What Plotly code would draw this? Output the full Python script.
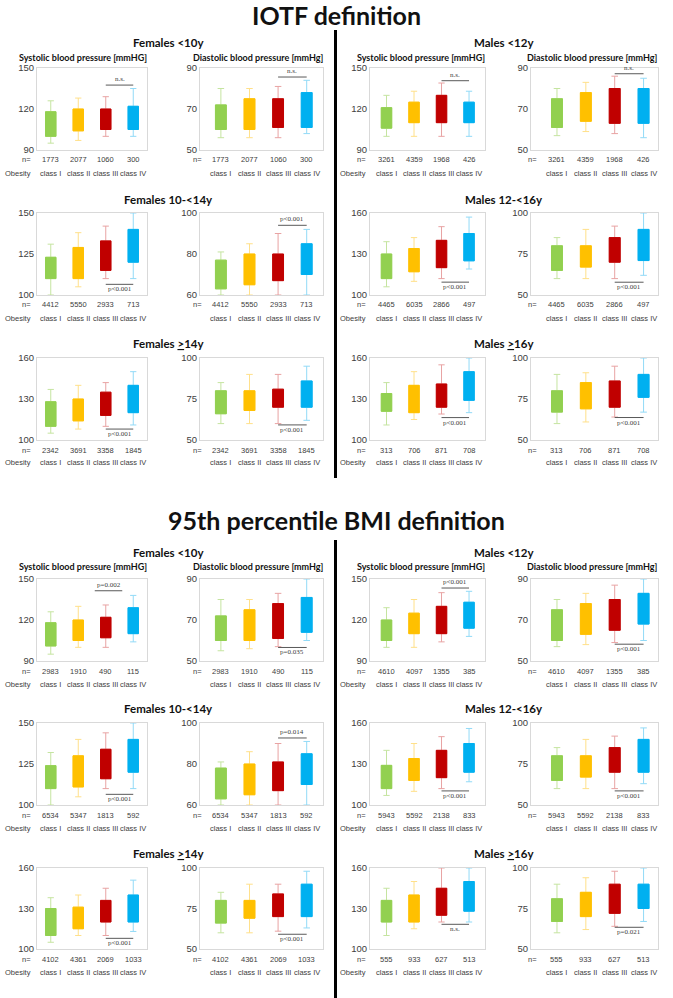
import plotly.graph_objects as go

W, H = 673, 998

# ---------------- data ----------------
CLASSES = ["class I", "class II", "class III", "class IV"]
COLORS = ["#92D050", "#FFC000", "#C00000", "#00B0F0"]
WHISKER_COLORS = ["#C5E4A0", "#FFE08A", "#E8A3A3", "#92DAF7"]

DEFINITIONS = ["IOTF definition", "95th percentile BMI definition"]
GROUPS = ["Females &lt;10y", "Females 10-&lt;14y", "Females <u>&gt;</u>14y",
          "Males &lt;12y", "Males 12-&lt;16y", "Males <u>&gt;</u>16y"]
SUBTITLES = ["Systolic blood pressure [mmHG]", "Diastolic blood pressure [mmHg]"]

SYS_RANGE = [[90, 150], [100, 150], [100, 160], [90, 150], [100, 160], [100, 160]]
SYS_TICKS = [[90, 120, 150], [100, 125, 150], [100, 130, 160],
             [90, 120, 150], [100, 130, 160], [100, 130, 160]]
DIA_RANGE = [[50, 90], [60, 100], [50, 100], [50, 90], [50, 100], [50, 100]]
DIA_TICKS = [[50, 70, 90], [60, 80, 100], [50, 75, 100],
             [50, 70, 90], [50, 75, 100], [50, 75, 100]]

# group order: F<10, F10-<14, F>=14, M<12, M12-<16, M>=16 ; values per class I..IV
IOTF_N = [[1773, 2077, 1060, 300], [4412, 5550, 2933, 713], [2342, 3691, 3358, 1845],
          [3261, 4359, 1968, 426], [4465, 6035, 2866, 497], [313, 706, 871, 708]]
P95_N = [[2983, 1910, 490, 115], [6534, 5347, 1813, 592], [4102, 4361, 2069, 1033],
         [4610, 4097, 1355, 385], [5943, 5592, 2138, 833], [555, 933, 627, 513]]

IOTF_SYS_LO = [[95, 97, 100, 100], [100, 105, 110, 110], [105, 108, 110, 111],
               [100, 100, 100, 100], [106, 110, 112, 119], [111, 115, 119, 120]]
IOTF_SYS_Q1 = [[100, 104, 105, 105], [110, 110, 115, 120], [110, 114, 118, 120],
               [106, 110, 110, 110], [112, 117, 120, 125], [121, 120, 124, 129]]
IOTF_SYS_Q3 = [[118, 120, 120, 122], [123, 129, 133, 140], [128, 130, 135, 140],
               [121, 125, 130, 125], [130, 134, 140, 145], [134, 140, 141, 150]]
IOTF_SYS_HI = [[126, 128, 129, 135], [131, 138, 142, 150], [137, 140, 142, 150],
               [130, 133, 139, 133], [139, 142, 150, 157], [142, 150, 155, 160]]

IOTF_DIA_LO = [[56, 56, 56, 58], [60, 60, 60, 60], [60, 60, 60, 62],
               [57, 59, 58, 56], [60, 60, 60, 62], [60, 61, 64, 67]]
IOTF_DIA_Q1 = [[60, 60, 61, 61], [63, 65, 67, 70], [66, 68, 70, 70],
               [61, 64, 63, 63], [65, 67, 70, 71], [67, 69, 70, 76]]
IOTF_DIA_Q3 = [[72, 75, 75, 78], [77, 80, 80, 85], [80, 80, 81, 86],
               [75, 78, 80, 80], [80, 80, 85, 90], [80, 85, 86, 90]]
IOTF_DIA_HI = [[80, 80, 81, 84], [81, 85, 90, 92], [85, 90, 90, 95],
               [80, 83, 86, 85], [85, 90, 92, 100], [90, 91, 95, 100]]

P95_SYS_LO = [[95, 100, 100, 104], [100, 105, 110, 110], [105, 110, 110, 113],
              [100, 100, 104, 108], [107, 110, 112, 117], [110, 115, 120, 120]]
P95_SYS_Q1 = [[101, 105, 107, 110], [110, 111, 116, 120], [110, 115, 120, 120],
              [105, 110, 110, 114], [112, 118, 120, 124], [120, 120, 125, 128]]
P95_SYS_Q3 = [[118, 120, 122, 129], [124, 130, 134, 140], [130, 131, 136, 140],
              [120, 125, 130, 133], [129, 134, 140, 145], [136, 140, 145, 150]]
P95_SYS_HI = [[126, 130, 131, 138], [132, 140, 144, 150], [138, 140, 145, 151],
              [129, 135, 140, 141], [140, 145, 150, 156], [145, 150, 160, 160]]

P95_DIA_LO = [[55, 56, 57, 60], [60, 60, 60, 60], [60, 60, 61, 63],
              [57, 58, 59, 60], [60, 60, 60, 63], [60, 62, 64, 67]]
P95_DIA_Q1 = [[60, 60, 61, 64], [63, 65, 67, 70], [66, 69, 70, 70],
              [60, 63, 65, 68], [65, 67, 70, 70], [67, 70, 72, 75]]
P95_DIA_Q3 = [[72, 75, 78, 81], [78, 80, 81, 85], [80, 80, 84, 90],
              [75, 78, 80, 83], [80, 80, 85, 90], [81, 85, 90, 90]]
P95_DIA_HI = [[80, 80, 83, 90], [81, 86, 90, 91], [85, 90, 90, 98],
              [80, 83, 87, 90], [85, 90, 92, 97], [90, 94, 98, 100]]

# significance brackets: (label, y, from class, to class, side)
IOTF_SYS_SIG = [("n.s.", 137.5, 2, 3, "above"), ("p&lt;0.001", 106.5, 2, 3, "below"),
                ("p&lt;0.001", 108, 2, 3, "below"), ("n.s.", 140.7, 2, 3, "above"),
                ("p&lt;0.001", 109.4, 2, 3, "below"), ("p&lt;0.001", 116.4, 2, 3, "below")]
IOTF_DIA_SIG = [("n.s.", 85.6, 2, 3, "above"), ("p&lt;0.001", 94, 2, 3, "above"),
                ("p&lt;0.001", 59.2, 2, 3, "below"), ("n.s.", 87.2, 2, 3, "above"),
                ("p&lt;0.001", 57.8, 2, 3, "below"), ("p&lt;0.001", 63.7, 2, 3, "below")]
P95_SYS_SIG = [("p=0.002", 141.4, 1.6, 2.6, "above"), ("p&lt;0.001", 106.5, 2, 3, "below"),
               ("p&lt;0.001", 107.9, 2, 3, "below"), ("p&lt;0.001", 143.4, 2, 3, "above"),
               ("p&lt;0.001", 110.3, 2, 3, "below"), ("n.s.", 118.3, 2, 3, "below")]
P95_DIA_SIG = [("p=0.035", 56.6, 2, 3, "below"), ("p=0.014", 92.7, 2, 3, "above"),
               ("p&lt;0.001", 59.1, 2, 3, "below"), ("p&lt;0.001", 58.2, 2, 3, "below"),
               ("p&lt;0.001", 58.6, 2, 3, "below"), ("p=0.021", 63.4, 2, 3, "below")]

STATS = [
    [(IOTF_SYS_LO, IOTF_SYS_Q1, IOTF_SYS_Q3, IOTF_SYS_HI, IOTF_SYS_SIG),
     (IOTF_DIA_LO, IOTF_DIA_Q1, IOTF_DIA_Q3, IOTF_DIA_HI, IOTF_DIA_SIG)],
    [(P95_SYS_LO, P95_SYS_Q1, P95_SYS_Q3, P95_SYS_HI, P95_SYS_SIG),
     (P95_DIA_LO, P95_DIA_Q1, P95_DIA_Q3, P95_DIA_HI, P95_DIA_SIG)],
]
NS = [IOTF_N, P95_N]

# ---------------- layout geometry ----------------
COL_PX = [(37, 147), (200, 323), (370, 485), (531, 658)]
COL_RANGE = [(-0.5, 3.5), (-0.73, 3.57), (-0.6, 3.58), (-0.9, 3.5)]
NLABEL_X = [33, 204, 368, 539]
ROW_PX = [[(68, 150), (213, 295), (358, 440)], [(579, 661), (723, 805), (868, 949)]]
SECTION_Y = [15, 520]
TITLE_Y = [[42, 199, 343], [552, 708, 853]]
SUBTITLE_Y = [57, 566]
TITLE_X = [168, 504]
SUBTITLE_X = [83, 258, 421, 592]
VLINES = [(30, 478), (540, 998)]

FRAME = "#D9D9D9"
TXT = "#404040"
SANS = "Liberation Sans, Arial, sans-serif"
TITLE_FONT = "Lato, Open Sans, sans-serif"


def px(x):
    return x / W


def py(y):
    return 1 - y / H


def text_ann(text, x, y, size, family, xref="paper", yref="paper", xanchor="center",
             yanchor="middle", color=TXT, yshift=0):
    return dict(text=text, x=x, y=y, xref=xref, yref=yref, xanchor=xanchor,
                yanchor=yanchor, yshift=yshift, showarrow=False,
                font=dict(family=family, size=size, color=color))


fig = go.Figure()
layout = {}
ann = []
shapes = []

k = 0
for d in range(2):
    ann.append(text_ann("<b>%s</b>" % DEFINITIONS[d], 0.5, py(SECTION_Y[d]), 25,
                        TITLE_FONT, color="#111111"))
    shapes.append(dict(type="line", xref="paper", yref="paper",
                       x0=px(335.5), x1=px(335.5), y0=py(VLINES[d][0]), y1=py(VLINES[d][1]),
                       line=dict(color="black", width=3)))
    for r in range(3):
        top, bot = ROW_PX[d][r]
        for side in range(2):
            ann.append(text_ann("<b>%s</b>" % GROUPS[r + 3 * side], px(TITLE_X[side]),
                                py(TITLE_Y[d][r]), 11.5, TITLE_FONT, color="#111111"))
        for c in range(4):
            k += 1
            g = r if c < 2 else 3 + r
            m = c % 2
            lo_a, q1_a, q3_a, hi_a, sig_a = STATS[d][m]
            lo, q1, q3, hi, sig = lo_a[g], q1_a[g], q3_a[g], hi_a[g], sig_a[g]
            yr = (SYS_RANGE if m == 0 else DIA_RANGE)[g]
            yt = (SYS_TICKS if m == 0 else DIA_TICKS)[g]
            xn = "x" if k == 1 else "x%d" % k
            yn = "y" if k == 1 else "y%d" % k
            layout["xaxis" if k == 1 else "xaxis%d" % k] = dict(
                domain=[px(COL_PX[c][0]), px(COL_PX[c][1])], range=list(COL_RANGE[c]),
                anchor=yn, showline=True, mirror=True, linecolor=FRAME, linewidth=1,
                showgrid=False, zeroline=False, showticklabels=False, ticks="",
                fixedrange=True, automargin=False)
            layout["yaxis" if k == 1 else "yaxis%d" % k] = dict(
                domain=[py(bot), py(top)], range=yr, anchor=xn,
                showline=True, mirror=True, linecolor=FRAME, linewidth=1,
                showgrid=False, zeroline=False, tickvals=yt, ticks="",
                tickfont=dict(family=SANS, size=9.5, color=TXT), fixedrange=True,
                automargin=False)
            for i in range(4):
                fig.add_trace(go.Box(
                    x=[i], q1=[q1[i]], median=[q1[i]], q3=[q3[i]],
                    lowerfence=[lo[i]], upperfence=[hi[i]], width=0.38, whiskerwidth=0.6,
                    line=dict(color=WHISKER_COLORS[i], width=1), fillcolor=COLORS[i],
                    boxpoints=False, hoverinfo="skip", xaxis=xn, yaxis=yn))
            for i in range(4):
                fig.add_trace(go.Box(
                    x=[i], q1=[q1[i]], median=[q1[i]], q3=[q3[i]],
                    lowerfence=[q1[i]], upperfence=[q3[i]], width=0.38, whiskerwidth=0,
                    line=dict(color=COLORS[i], width=1), fillcolor=COLORS[i],
                    boxpoints=False, hoverinfo="skip", xaxis=xn, yaxis=yn))
            # n values and class labels
            for i in range(4):
                ann.append(text_ann(str(NS[d][g][i]), i, py(bot + 10), 7.5, SANS, xref=xn))
                ann.append(text_ann(CLASSES[i], i, py(bot + 23), 7.5, SANS, xref=xn))
            ann.append(text_ann("n=", px(NLABEL_X[c]), py(bot + 10), 7.5, SANS,
                                xanchor="right"))
            if m == 0:
                ann.append(text_ann("Obesity", px(NLABEL_X[c]), py(bot + 23), 7.5, SANS,
                                    xanchor="right"))
            if r == 0:
                ann.append(text_ann("<b>%s</b>" % SUBTITLES[m], px(SUBTITLE_X[c]),
                                    py(SUBTITLE_Y[d]), 9, TITLE_FONT, color="#111111"))
            # significance bracket
            label, sy, sx0, sx1, sside = sig
            shapes.append(dict(type="line", xref=xn, yref=yn, x0=sx0, x1=sx1, y0=sy, y1=sy,
                               line=dict(color="#595959", width=1)))
            ann.append(text_ann(label, (sx0 + sx1) / 2, sy, 7,
                                "Liberation Serif, Times New Roman, serif",
                                xref=xn, yref=yn,
                                yanchor="bottom" if sside == "above" else "top",
                                yshift=0 if sside == "above" else 1))

fig.update_layout(
    width=W, height=H, margin=dict(l=0, r=0, t=0, b=0, pad=0, autoexpand=False),
    paper_bgcolor="white", plot_bgcolor="white", showlegend=False,
    boxmode="overlay", annotations=ann, shapes=shapes, **layout)

fig.write_html("out.html", config={"displayModeBar": False},
               post_script="document.body.style.margin='0';document.body.style.padding='0';")
